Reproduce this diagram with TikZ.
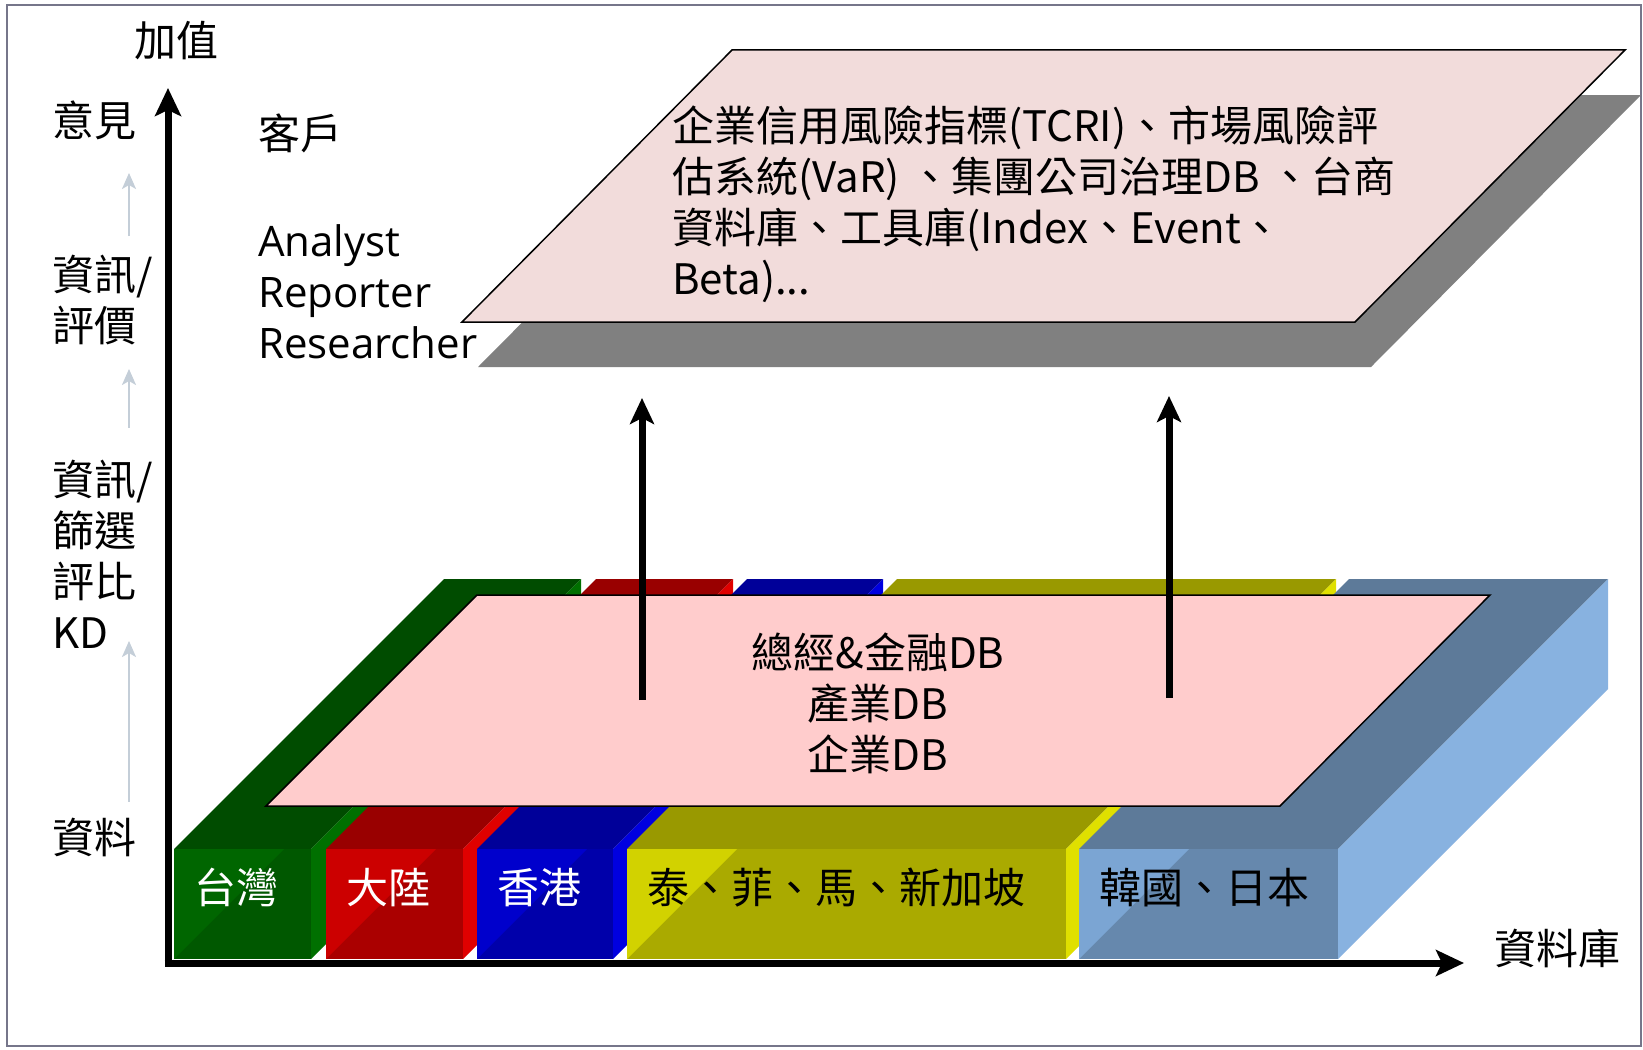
\documentclass[tikz,border=0pt]{standalone}
\usepackage{fontspec}
\setmainfont{Open Sans}
\newfontfamily\cjk{Noto Sans CJK TC}
\usetikzlibrary{arrows.meta}
\definecolor{framec}{HTML}{76768A}
\definecolor{topPink}{HTML}{F2DCDB}
\definecolor{botPink}{HTML}{FFCCCC}
\definecolor{shadowc}{HTML}{808080}
\definecolor{grayArrow}{HTML}{C4CED8}
% green
\definecolor{gT}{HTML}{004C00}\definecolor{gS}{HTML}{007000}
\definecolor{gF}{HTML}{005800}\definecolor{gL}{HTML}{006600}
% red
\definecolor{rT}{HTML}{990000}\definecolor{rS}{HTML}{E00000}
\definecolor{rF}{HTML}{AA0000}\definecolor{rL}{HTML}{CC0000}
% blue
\definecolor{bT}{HTML}{000099}\definecolor{bS}{HTML}{0000E0}
\definecolor{bF}{HTML}{0000AA}\definecolor{bL}{HTML}{0000CC}
% yellow
\definecolor{yT}{HTML}{999900}\definecolor{yS}{HTML}{E0E000}
\definecolor{yF}{HTML}{AAAA00}\definecolor{yL}{HTML}{D2D200}
% steel
\definecolor{sT}{HTML}{5D7A99}\definecolor{sS}{HTML}{88B2E0}
\definecolor{sF}{HTML}{6688AD}\definecolor{sL}{HTML}{7BA5D3}
\begin{document}
\begin{tikzpicture}[x=1pt,y=-1pt,
  lbl/.style={inner sep=0pt, font={\cjk\fontsize{42}{51}\selectfont}, align=left},
  latin/.style={inner sep=0pt, font={\fontsize{42}{51}\selectfont}, align=left},
  blk/.style={inner sep=0pt, font={\cjk\fontsize{42}{51}\selectfont}},
  bigarrow/.style={line width=7pt, -{Stealth[length=26pt,width=24pt,inset=6pt]}},
  axisline/.style={line width=7pt, -{Stealth[length=28pt,width=26pt,inset=6pt]}},
  smallarrow/.style={grayArrow, line width=2.2pt, -{Stealth[length=16pt,width=14pt,inset=4pt]}},
  plane/.style={draw=black, line width=1.5pt}]
\useasboundingbox (0,0) rectangle (1643,1049);
\fill[white] (0,0) rectangle (1643,1049);
\draw[framec, line width=2pt] (7,5) rectangle (1641,1046);

% top plane with shadow
\fill[shadowc] (478,367) -- (748,95) -- (1641,95) -- (1371,367) -- cycle;
\filldraw[plane, fill=topPink] (462,322) -- (732,50) -- (1625,50) -- (1355,322) -- cycle;
\node[lbl, anchor=north west] (toptext) at (672,106)
  {企業信用風險指標(TCRI)、市場風險評\\估系統(VaR) 、集團公司治理DB 、台商\\資料庫、工具庫(Index、Event、\\Beta)...};

% database blocks
\foreach \xa/\xb/\bc/\lab/\tc [count=\i] in
  {174/311/g/台灣/white, 326/463/r/大陸/white, 477/613/b/香港/white,
   627/1066/y/泰、菲、馬、新加坡/black, 1079/1338/s/韓國、日本/black}{
  \fill[\bc T] (\xa,849) -- (\xb,849) -- (\xb+270,579) -- (\xa+270,579) -- cycle;
  \fill[\bc S] (\xb,849) -- (\xb,959) -- (\xb+270,689) -- (\xb+270,579) -- cycle;
  \fill[\bc F] (\xa,849) rectangle (\xb,959);
  \fill[\bc L] (\xa,849) -- (\xa+110,849) -- (\xa,959) -- cycle;
  \node[blk, text=\tc, anchor=west] (blk\i) at (\xa+20,887.5) {\lab};
}

% bottom plane
\filldraw[plane, fill=botPink] (266,806) -- (477,595) -- (1490,595) -- (1280,806) -- cycle;
\node[lbl, align=center, anchor=north] (bottext) at (878,633) {總經\&金融DB\\產業DB\\企業DB};

% arrows between the planes
\coordinate (a1s) at (642,700); \coordinate (a1e) at (642,398);
\coordinate (a2s) at (1169,698); \coordinate (a2e) at (1169,396);
\draw[bigarrow] (a1s) -- (a1e);
\draw[bigarrow] (a2s) -- (a2e);

% axes
\coordinate (origin) at (168,963);
\coordinate (ytip) at (168,88);
\coordinate (xtip) at (1464,963);
\draw[axisline] ([yshift=3.5pt]origin) -- (ytip);
\draw[axisline] ([xshift=-3.5pt]origin) -- (xtip);
\node[lbl, anchor=center] (yname) at (176.5,40.5) {加值};
\node[lbl, anchor=west] (xname) at (1494,948) {資料庫};

% left scale labels
\node[lbl, anchor=north west] (l1) at (52.5,100.5) {意見};
\node[lbl, anchor=north west] (l2) at (52.5,254.5) {資訊/\\評價};
\node[lbl, anchor=north west] (l3) at (52.5,460) {資訊/\\篩選\\評比\\KD};
\node[lbl, anchor=north west] (l4) at (52.5,818) {資料};
\coordinate (g1s) at (129,236); \coordinate (g1e) at (129,173);
\coordinate (g2s) at (129,427.5); \coordinate (g2e) at (129,369);
\coordinate (g3s) at (129,801.5); \coordinate (g3e) at (129,641);
\draw[smallarrow] (g1s) -- (g1e);
\draw[smallarrow] (g2s) -- (g2e);
\draw[smallarrow] (g3s) -- (g3e);

% client labels
\node[lbl, anchor=north west] (client) at (258,114) {客戶};
\node[latin, anchor=north west] (roles) at (258,224) {Analyst\\Reporter\\Researcher};
\end{tikzpicture}
\end{document}
